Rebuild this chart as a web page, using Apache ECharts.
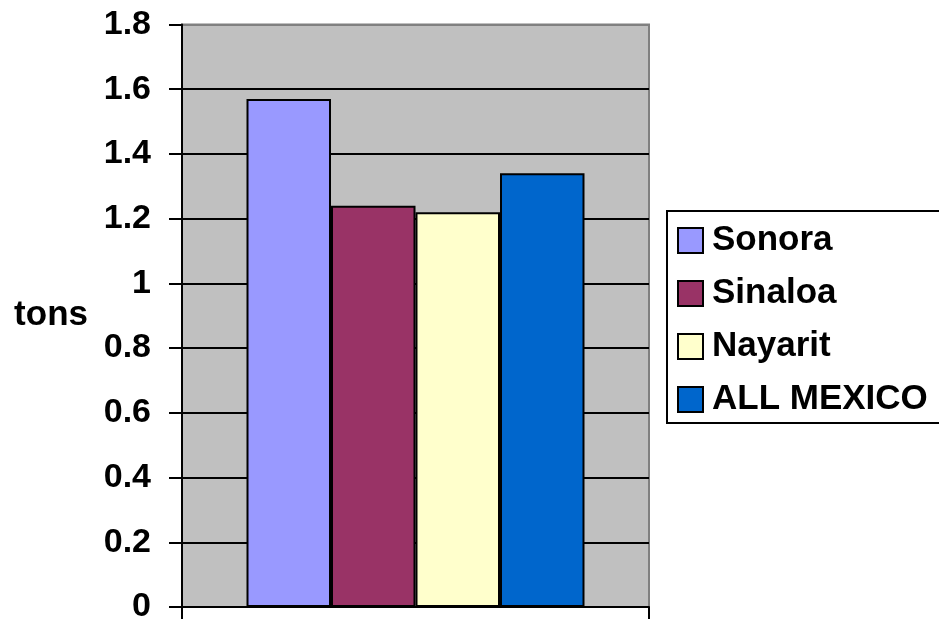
<!DOCTYPE html>
<html>
<head>
<meta charset="utf-8">
<script src="https://cdn.jsdelivr.net/npm/echarts@6/dist/echarts.min.js"></script>
<style>
  html, body { margin: 0; padding: 0; background: #fff; }
  #chart { width: 939px; height: 624px; }
</style>
</head>
<body>
<div id="chart"></div>
<script>
var regions = ['Sonora', 'Sinaloa', 'Nayarit', 'ALL MEXICO'];
var tonsValues = [1.57, 1.24, 1.22, 1.34];
var barColors = ['#9999FF', '#993366', '#FFFFCC', '#0066CC'];
var categories = [''];

var font = 'Arial, "Liberation Sans", sans-serif';

var myChart = echarts.init(document.getElementById('chart'));

var series = [];
for (var i = 0; i < regions.length; i++) {
    series.push({
        name: regions[i],
        type: 'bar',
        barWidth: 84.5,
        barGap: '0%',
        itemStyle: {
            color: barColors[i],
            borderColor: '#000',
            borderWidth: 2
        },
        data: [tonsValues[i]]
    });
}

var option = {
    animation: false,
    grid: {
        left: 182,
        right: 290,
        top: 24.5,
        bottom: 14.5,
        show: true,
        backgroundColor: '#C0C0C0',
        borderColor: '#808080',
        borderWidth: 2
    },
    legend: {
        orient: 'vertical',
        left: 667,
        top: 211,
        padding: [12, 24, 6, 10],
        itemWidth: 25,
        itemHeight: 25,
        itemGap: 18,
        borderColor: '#000',
        borderWidth: 2,
        backgroundColor: '#fff',
        icon: 'rect',
        data: regions,
        textStyle: {
            color: '#000',
            fontFamily: font,
            fontWeight: 'bold',
            fontSize: 35,
            padding: [0, 0, 0, 4]
        }
    },
    xAxis: {
        type: 'category',
        data: categories,
        axisLine: { lineStyle: { color: '#000', width: 2 } },
        axisTick: { show: true, length: 12, lineStyle: { color: '#000', width: 2 } },
        axisLabel: { show: false }
    },
    yAxis: {
        type: 'value',
        min: 0,
        max: 1.8,
        interval: 0.2,
        name: 'tons',
        nameLocation: 'middle',
        nameRotate: 0,
        nameGap: 94,
        nameTextStyle: {
            color: '#000',
            fontFamily: font,
            fontWeight: 'bold',
            fontSize: 35
        },
        axisLine: { show: true, lineStyle: { color: '#000', width: 2 } },
        axisTick: { show: true, length: 13, lineStyle: { color: '#000', width: 2 } },
        axisLabel: {
            margin: 31,
            color: '#000',
            fontFamily: font,
            fontWeight: 'bold',
            fontSize: 34
        },
        splitLine: {
            lineStyle: {
                color: ['#000', '#000', '#000', '#000', '#000', '#000', '#000', '#000', '#000', '#808080'],
                width: 2
            }
        }
    },
    series: series
};

myChart.setOption(option);
</script>
</body>
</html>
